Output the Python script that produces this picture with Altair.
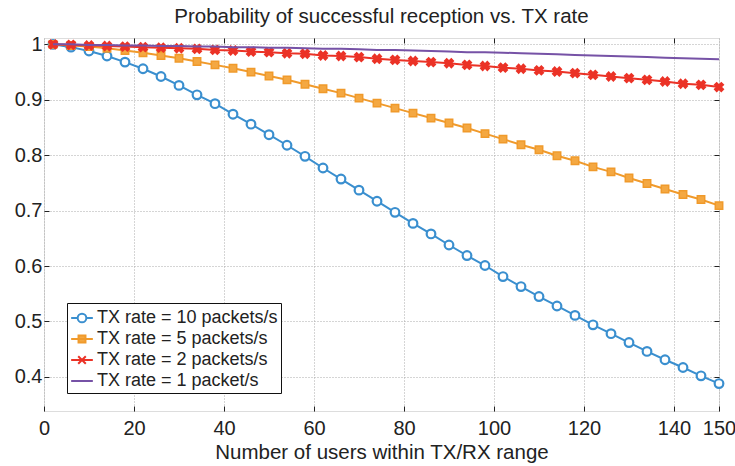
import altair as alt
import pandas as pd

users = [2, 6, 10, 14, 18, 22, 26, 30, 34, 38, 42, 46, 50, 54, 58, 62, 66, 70, 74,
         78, 82, 86, 90, 94, 98, 102, 106, 110, 114, 118, 122, 126, 130, 134, 138,
         142, 146, 150]

p_rate10 = [1.000, 0.995, 0.988, 0.979, 0.968, 0.956, 0.942, 0.926, 0.909, 0.893,
            0.874, 0.856, 0.837, 0.818, 0.798, 0.777, 0.757, 0.737, 0.717, 0.697,
            0.677, 0.658, 0.638, 0.619, 0.601, 0.581, 0.563, 0.545, 0.528, 0.511,
            0.494, 0.478, 0.462, 0.446, 0.431, 0.417, 0.402, 0.388]
p_rate5 = [1.000, 0.998, 0.996, 0.993, 0.989, 0.985, 0.980, 0.975, 0.969, 0.963,
           0.957, 0.950, 0.943, 0.936, 0.928, 0.920, 0.912, 0.903, 0.894, 0.885,
           0.876, 0.867, 0.858, 0.849, 0.839, 0.829, 0.819, 0.810, 0.799, 0.790,
           0.779, 0.770, 0.759, 0.749, 0.739, 0.729, 0.720, 0.709]
p_rate2 = [1.000, 0.999, 0.998, 0.997, 0.996, 0.995, 0.994, 0.993, 0.992, 0.990,
           0.989, 0.987, 0.986, 0.984, 0.983, 0.980, 0.979, 0.977, 0.974, 0.972,
           0.970, 0.968, 0.966, 0.963, 0.961, 0.958, 0.956, 0.953, 0.951, 0.948,
           0.945, 0.942, 0.939, 0.936, 0.933, 0.929, 0.927, 0.923]
p_rate1 = [1.000, 1.000, 0.999, 0.999, 0.998, 0.998, 0.997, 0.997, 0.996, 0.996,
           0.995, 0.995, 0.994, 0.994, 0.993, 0.992, 0.992, 0.991, 0.990, 0.990,
           0.989, 0.988, 0.987, 0.986, 0.986, 0.985, 0.984, 0.983, 0.982, 0.981,
           0.980, 0.979, 0.978, 0.977, 0.976, 0.975, 0.974, 0.973]

series_names = ["TX rate = 10 packets/s", "TX rate = 5 packets/s",
                "TX rate = 2 packets/s", "TX rate = 1 packet/s"]
series_values = [p_rate10, p_rate5, p_rate2, p_rate1]

x_ticks = [0, 20, 40, 60, 80, 100, 120, 140, 150]
y_ticks = [0.4, 0.5, 0.6, 0.7, 0.8, 0.9, 1.0]

colors = ["#3a8fcf", "#f09a2b", "#eb3226", "#7652a6"]
fills = ["#ffffff", "#f4a842", "#eb3226", "#7652a6"]
legend_paths = [
    "M-1,0L-0.4,0M0.4,0L1,0M0.4,0A0.4,0.4,0,1,1,-0.4,0A0.4,0.4,0,1,1,0.4,0Z",
    "M-1,0L1,0M-0.32,-0.32L0.32,-0.32L0.32,0.32L-0.32,0.32Z",
    "M-1,0L1,0M-0.35,-0.35L0.35,0.35M-0.35,0.35L0.35,-0.35",
    "M-1,0L1,0",
]

rows = []
for name, vals in zip(series_names, series_values):
    for u, v in zip(users, vals):
        rows.append({"users": u, "p": v, "series": name})
df = pd.DataFrame(rows)

FONT = "Liberation Sans"
TXT = "#222222"

xs = alt.Scale(domain=[0, 150], nice=False, zero=False)
ys = alt.Scale(domain=[0.3385, 1.0115], nice=False, zero=False)

x_main = alt.X("users:Q", scale=xs, axis=alt.Axis(
    orient="bottom", values=x_ticks, offset=-5, tickSize=5, tickColor=TXT,
    domain=False, grid=True, gridDash=[1, 2], gridColor="#aaaaaa",
    labelFontSize=20, labelFont=FONT, labelColor=TXT, labelPadding=7,
    labelFlush=False, title="Number of users within TX/RX range",
    titleFontSize=20.5, titleFont=FONT, titleFontWeight="normal",
    titleColor=TXT, titlePadding=4))
y_main = alt.Y("p:Q", scale=ys, axis=alt.Axis(
    orient="left", values=y_ticks, format=".1~f", offset=-5, tickSize=5,
    tickColor=TXT, domain=False, grid=True, gridDash=[1, 2],
    gridColor="#aaaaaa", labelFontSize=20, labelFont=FONT, labelColor=TXT,
    labelPadding=2, labelFlush=False, title=None))

x_plain = alt.X("users:Q", axis=None)
y_plain = alt.Y("p:Q", axis=None)

base = alt.Chart(df)


def only(i):
    return base.transform_filter(alt.datum.series == series_names[i])


line_blue = only(0).mark_line(strokeWidth=2, color=colors[0]).encode(x=x_main, y=y_main)
line_orange = only(1).mark_line(strokeWidth=2, color=colors[1]).encode(x=x_plain, y=y_plain)
line_red = only(2).mark_line(strokeWidth=2, color=colors[2]).encode(x=x_plain, y=y_plain)
line_purple = only(3).mark_line(strokeWidth=2, color=colors[3]).encode(x=x_plain, y=y_plain)

pts_blue = only(0).mark_point(
    shape="circle", filled=True, fill="#ffffff", stroke=colors[0], strokeWidth=2.2,
    size=75, opacity=1).encode(x=x_plain, y=y_plain)
pts_orange = only(1).mark_point(
    shape="square", filled=True, fill=fills[1], stroke=colors[1], strokeWidth=1.5,
    size=55, opacity=1).encode(x=x_plain, y=y_plain)
pts_red = only(2).mark_point(
    shape="cross", angle=45, filled=True, color=colors[2], size=120,
    opacity=1).encode(x=x_plain, y=y_plain)

leg = alt.Legend(
    orient="none", legendX=23, legendY=265, title=None,
    labelFontSize=18, labelFont=FONT, labelColor=TXT, labelLimit=400,
    symbolSize=470, symbolStrokeWidth=2,
    padding=3, rowPadding=0, labelOffset=3,
    strokeColor="#111111", fillColor="#ffffff",
)
legend_layer = base.transform_filter("datum.users < 0").mark_point(
    strokeWidth=2, opacity=1).encode(
    x=x_plain, y=y_plain,
    shape=alt.Shape("series:N", scale=alt.Scale(domain=series_names, range=legend_paths), legend=leg),
    stroke=alt.Stroke("series:N", scale=alt.Scale(domain=series_names, range=colors), legend=leg),
    fill=alt.Fill("series:N", scale=alt.Scale(domain=series_names, range=fills), legend=leg),
)

frame_ticks = base.mark_point(opacity=0).encode(
    x=alt.X("users:Q", axis=alt.Axis(
        orient="top", values=x_ticks[1:-1], offset=-5, tickSize=5,
        tickColor=TXT, domain=False, grid=False, labels=False, title=None)),
    y=alt.Y("p:Q", axis=alt.Axis(
        orient="right", values=y_ticks[:-1], offset=-5, tickSize=5,
        tickColor=TXT, domain=False, grid=False, labels=False, title=None)),
)

chart = alt.layer(
    line_blue, pts_blue, line_orange, pts_orange, line_red, pts_red,
    line_purple, legend_layer, frame_ticks
).resolve_axis(x="independent", y="independent").properties(
    width=675, height=373,
    title=alt.TitleParams("Probability of successful reception vs. TX rate",
                          fontSize=20.5, font=FONT, fontWeight="normal",
                          color=TXT, anchor="middle", baseline="alphabetic",
                          offset=15, dy=24),
    autosize=alt.AutoSizeParams(type="none"),
    padding={"left": 44, "top": 38, "right": 16, "bottom": 55},
).configure_view(stroke="#1a1a1a", strokeWidth=1.2).configure(background="white")

chart.save("out.html", embed_options={"renderer": "svg", "actions": False})
